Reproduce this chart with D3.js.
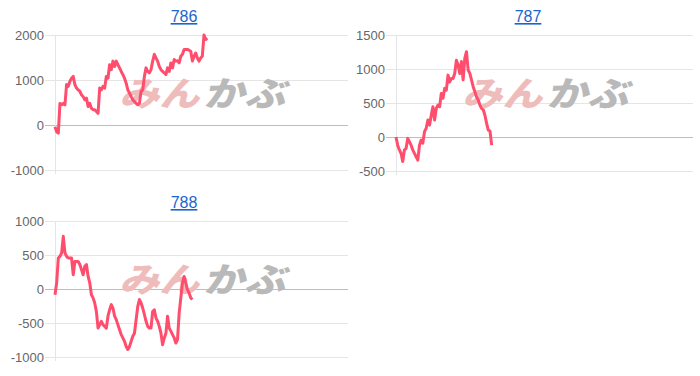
<!DOCTYPE html>
<html>
<head>
<meta charset="utf-8">
<script src="https://cdn.jsdelivr.net/npm/d3@7"></script>
<style>
  html, body { margin: 0; padding: 0; background: #fff; }
  text { font-family: "Liberation Sans", Arial, sans-serif; }
</style>
</head>
<body>
<div id="chart"></div>
<script>
// chart titles
var titles = ["786", "787", "788"];

// y axis tick labels per chart
var ticks786 = [-1000, 0, 1000, 2000];
var ticks787 = [-500, 0, 500, 1000, 1500];
var ticks788 = [-1000, -500, 0, 500, 1000];

// number of slots on the x axis (shared by all charts)
var xSlots = 177;

// values
var s786 = [-40, -150, -180, 480, 450, 480, 450, 900, 860, 970, 1040, 1080, 900, 820, 780, 750, 670,
    630, 560, 600, 410, 480, 370, 340, 340, 300, 260, 820, 780, 860, 820, 1080, 1040, 1340, 1230, 1420, 1300,
    1420, 1340, 1270, 1190, 1120, 1040, 930, 780, 710, 630, 560, 520, 480, 450, 480, 750, 780, 1080, 1270, 1190,
    1160, 1230, 1420, 1570, 1490, 1420, 1300, 1230, 1190, 1160, 1120, 1270, 1190, 1380, 1270, 1455, 1420, 1430,
    1380, 1530, 1570, 1680, 1680, 1680, 1660, 1640, 1420, 1530, 1600, 1490, 1420, 1490, 1530, 2000, 1900, 1930];

var s787 = [0, -120, -190, -240, -360, -190, -170, -20, -70, -120, -190, -240, -290, -340, -120, -45, -90,
    80, 130, 250, 175, 320, 445, 250, 420, 470, 445, 640, 570, 715, 690, 910, 810, 860, 860, 935, 1130, 1060,
    935, 1110, 840, 1155, 1255, 985, 935, 840, 740, 665, 590, 545, 470, 420, 400, 320, 200, 100, 90, -120];

var s788 = [-85, 90, 455, 480, 530, 775, 530, 480, 455, 455, 455, 210, 405, 405, 405, 360, 285, 210, 335,
    360, 185, 90, -85, -130, -205, -330, -575, -525, -475, -525, -550, -575, -400, -305, -230, -280, -400,
    -450, -525, -600, -670, -720, -770, -845, -890, -845, -770, -695, -650, -450, -255, -155, -205, -280,
    -375, -475, -550, -575, -575, -330, -305, -425, -475, -550, -650, -820, -720, -650, -400, -575, -620,
    -670, -720, -795, -745, -355, -130, 90, 185, 90, -10, -60, -130, -155];

function createVisualization() {
    const width = 700;
    const height = 376;

    const svg = d3.select("#chart")
        .append("svg")
        .attr("width", width)
        .attr("height", height);

    // one panel per chart: plot box, title spot
    var panels = [
        { title: titles[0], data: s786, ticks: ticks786, left: 55, right: 348, top: 35, bottom: 170, tx: 184, ty: 22 },
        { title: titles[1], data: s787, ticks: ticks787, left: 396, right: 693, top: 35, bottom: 171, tx: 528, ty: 22 },
        { title: titles[2], data: s788, ticks: ticks788, left: 55, right: 348, top: 221, bottom: 357, tx: 184, ty: 208 }
    ];

    panels.forEach(function(p) {
        var g = svg.append("g");

        var x = d3.scaleLinear()
            .domain([0, xSlots])
            .range([p.left, p.right]);

        var y = d3.scaleLinear()
            .domain(d3.extent(p.ticks))
            .range([p.bottom, p.top]);

        // title (link style)
        g.append("text")
            .attr("x", p.tx)
            .attr("y", p.ty)
            .attr("text-anchor", "middle")
            .style("font-size", "16px")
            .style("fill", "#1a66cc")
            .style("text-decoration", "underline")
            .text(p.title);

        // horizontal grid + tick marks
        g.selectAll(".grid")
            .data(p.ticks)
            .enter().append("line")
            .attr("x1", p.left - 10)
            .attr("x2", p.right)
            .attr("y1", function(d) { return Math.round(y(d)) + 0.5; })
            .attr("y2", function(d) { return Math.round(y(d)) + 0.5; })
            .style("stroke", function(d) { return d === 0 ? "#bdbdbd" : "#e5e5e5"; })
            .style("stroke-width", 1);

        // left vertical line
        g.append("line")
            .attr("x1", p.left + 0.5)
            .attr("x2", p.left + 0.5)
            .attr("y1", p.top)
            .attr("y2", p.bottom + 4)
            .style("stroke", "#e5e5e5");

        // y labels
        g.selectAll(".lbl")
            .data(p.ticks)
            .enter().append("text")
            .attr("x", p.left - 11)
            .attr("y", function(d) { return y(d); })
            .attr("dy", "0.35em")
            .attr("text-anchor", "end")
            .style("font-size", "13px")
            .style("fill", "#666")
            .text(function(d) { return d; });

        // watermark
        var cx = (p.left + p.right) / 2;
        var cy = (p.top + p.bottom) / 2 - 9;
        var wm = g.append("g")
            .attr("transform", "translate(" + cx + "," + (cy + 12) + ") skewX(-14)");
        wm.append("text")
            .attr("x", -82)
            .attr("y", 0)
            .attr("textLength", 80)
            .attr("lengthAdjust", "spacingAndGlyphs")
            .style("font-family", "'Noto Sans CJK JP', sans-serif")
            .style("font-weight", "900")
            .style("font-size", "34px")
            .style("fill", "#efbcbc")
            .text("みん");
        wm.append("text")
            .attr("x", 2)
            .attr("y", 0)
            .attr("textLength", 82)
            .attr("lengthAdjust", "spacingAndGlyphs")
            .style("font-family", "'Noto Sans CJK JP', sans-serif")
            .style("font-weight", "900")
            .style("font-size", "34px")
            .style("fill", "#b9b9b9")
            .text("かぶ");

        // the line
        var line = d3.line()
            .x(function(d, i) { return x(i); })
            .y(function(d) { return y(d); });

        g.append("path")
            .datum(p.data)
            .attr("d", line)
            .style("fill", "none")
            .style("stroke", "#ff4d6d")
            .style("stroke-width", 3)
            .style("stroke-linejoin", "round");
    });
}

document.addEventListener("DOMContentLoaded", createVisualization);
</script>
</body>
</html>
